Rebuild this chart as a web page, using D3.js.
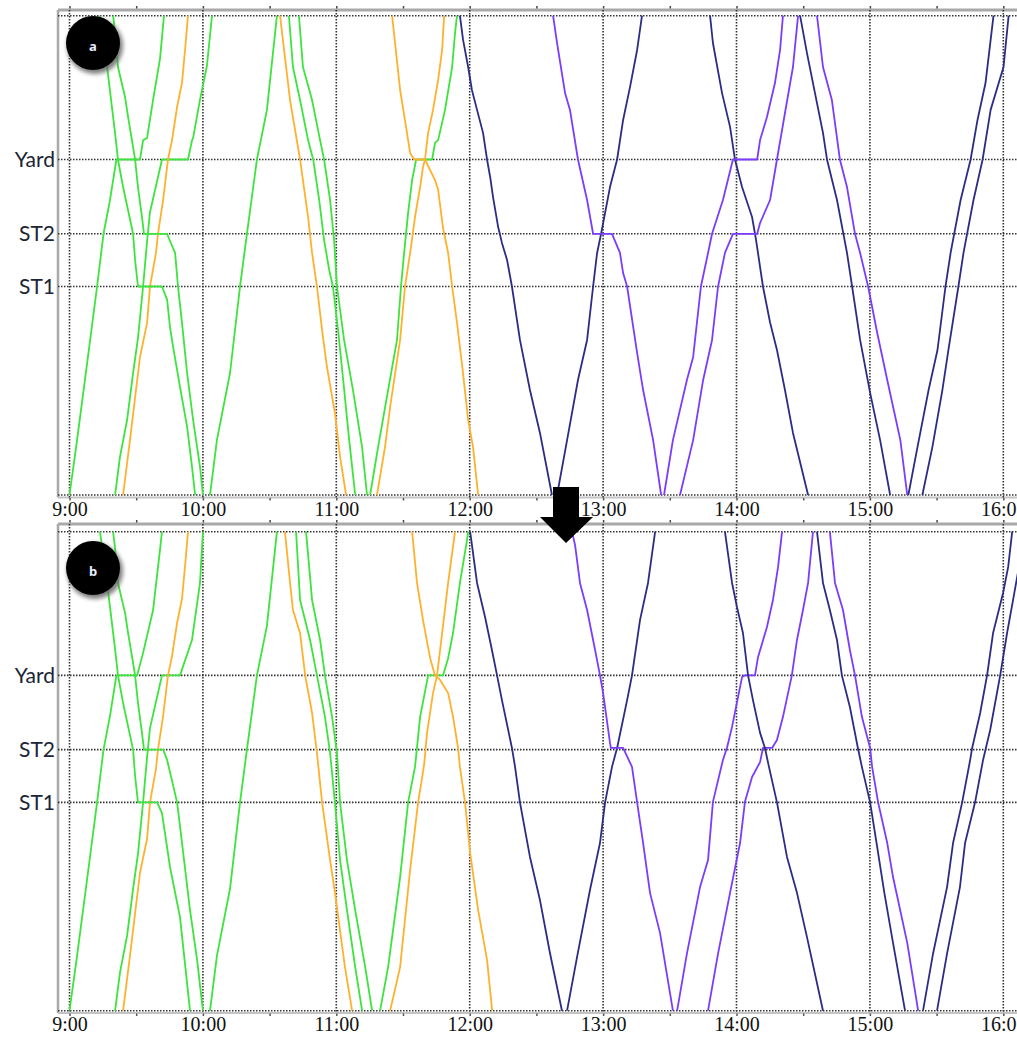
<!DOCTYPE html>
<html>
<head>
<meta charset="utf-8">
<script src="https://cdn.jsdelivr.net/npm/d3@7"></script>
<style>
  body { margin: 0; background: #fff; }
  svg { display: block; }
</style>
</head>
<body>
<svg id="chart" width="1017" height="1038"></svg>
<script>
// ---- Line geometry: stations by distance (km) from the lower terminal ----
const stations = [
  { name: "",     km: 0 },
  { name: "ST1",  km: 8.7 },
  { name: "ST2",  km: 10.9 },
  { name: "Yard", km: 14.0 },
  { name: "",     km: 20 }
];

// Hour grid (minutes after 9:00) and their labels
const hourMinutes = [0, 60, 120, 180, 240, 300, 360, 420];
const hourLabels = ["9:00", "10:00", "11:00", "12:00", "13:00", "14:00", "15:00", "16:00"];
const halfHourMinutes = d3.range(0, 451, 30);

// Service colours
const serviceColors = {
  green:  "#3ce43c",
  orange: "#ffb12e",
  navy:   "#2c2c84",
  purple: "#7b3cff"
};

// ---- Timetable (a): each path is [minutes after 9:00, km] ----
const planA = [
  { service: "green",  path: [[0,0],[3.4,2.29],[8.3,5.76],[12.4,8.7],[15.3,10.9],[18.2,12.3],[21.1,14.0],[31.7,14.0],[33.1,14.8],[34.9,14.9],[37.6,16.5],[40.7,18.2],[42.5,20]] },
  { service: "green",  path: [[20.5,0],[22.7,1.59],[25.9,3.13],[28.6,5.09],[30.8,6.55],[33.1,8.7],[34.9,10.6],[36.2,11.8],[39.4,13.1],[41.6,14.0],[53.3,14.0],[55.1,14.8],[55.6,14.9],[58.7,16.5],[61.8,17.9],[64.1,20]] },
  { service: "orange", path: [[24.1,0],[27.2,2.29],[31.7,5.76],[34.9,7.18],[36.2,8.7],[38.9,10.1],[39.8,10.9],[42.1,12.3],[44.3,14.0],[46.1,14.8],[48.4,16.2],[50.6,17.2],[52.0,18.6],[53.3,20]] },
  { service: "green",  path: [[13.7,20],[16.9,17.86],[20.5,15.1],[21.8,14.0],[24.1,12.85],[28.6,10.9],[29.5,9.8],[30.8,8.7],[41.6,8.7],[43.9,8.15],[45.2,7.0],[46.6,6.18],[49.7,4.51],[52.9,2.84],[55.1,1.17],[56.5,0]] },
  { service: "green",  path: [[19.6,20],[20.5,19.3],[21.8,17.86],[25.0,16.6],[26.3,15.8],[28.1,14.8],[29.5,14.0],[30.8,12.85],[32.6,11.6],[33.5,10.9],[43.9,10.9],[45.2,10.6],[47.5,10.1],[48.8,8.7],[50.6,7.18],[52.9,5.09],[55.6,3.13],[58.7,1.17],[60.0,0]] },
  { service: "green",  path: [[63.2,0],[66.3,2.29],[72.2,5.09],[76.7,8.7],[79.8,10.9],[84.3,14.0],[88.8,16.07],[93.3,20]] },
  { service: "orange", path: [[94.7,20],[96.5,18.57],[99.2,16.48],[103.7,14.0],[107.3,11.6],[109.1,10.1],[111.3,8.7],[113.6,6.88],[115.8,5.34],[119.4,3.42],[121.7,1.59],[124.4,0]] },
  { service: "green",  path: [[98.7,20],[100.5,17.86],[103.7,16.48],[107.3,14.81],[109.6,14.0],[112.3,12.31],[114.5,10.64],[116.8,9.39],[118.5,8.7],[120.8,6.88],[123.1,4.8],[125.8,2.29],[128.5,0]] },
  { service: "green",  path: [[103.2,20],[105.0,17.86],[109.1,16.48],[112.7,14.81],[114.5,14.0],[117.2,12.31],[119.0,10.64],[120.3,8.7],[123.5,6.47],[127.5,4.38],[131.6,2.0],[133.8,0]] },
  { service: "green",  path: [[135.2,0],[138.8,2.0],[143.3,4.38],[147.3,6.47],[149.1,8.7],[150.5,10.1],[152.3,11.77],[154.1,13.14],[155.9,14.0],[163.1,14.0],[164.4,14.69],[165.8,14.81],[168.9,16.07],[172.1,17.86],[173.4,19.28],[174.3,20]] },
  { service: "orange", path: [[138.3,0],[141.9,2.0],[144.2,3.67],[148.7,6.47],[150.9,8.7],[153.2,10.1],[155.4,11.6],[157.7,12.85],[159.0,13.69],[159.9,14.0],[161.3,15.11],[163.5,16.07],[165.8,17.32],[167.6,18.57],[168.5,20]] },
  { service: "orange", path: [[145.1,20],[148.7,16.9],[151.8,15.11],[153.2,14.27],[155.0,14.0],[159.9,14.0],[164.4,13.14],[165.8,12.73],[168.0,11.15],[170.3,10.1],[172.1,8.7],[174.3,7.18],[177.0,5.09],[179.3,3.13],[181.5,2.0],[183.8,0]] },
  { service: "navy",   path: [[175.6,20],[177.0,19.0],[179.3,17.86],[181.0,16.9],[183.3,16.07],[186.0,15.11],[187.8,14.0],[189.2,13.27],[190.5,12.43],[192.8,11.18],[194.5,10.52],[196.8,9.81],[199.0,8.7],[202.6,6.47],[207.1,4.38],[211.6,2.59],[217.0,0]] },
  { service: "navy",   path: [[219.3,0],[223.8,2.29],[228.7,4.8],[232.8,6.47],[235.5,8.7],[237.3,10.1],[239.1,10.9],[243.1,12.85],[246.3,14.0],[249.0,15.65],[252.1,17.02],[255.3,18.57],[257.5,20]] },
  { service: "purple", path: [[217.5,20],[219.3,18.86],[222.9,16.77],[225.1,16.07],[228.7,14.0],[232.8,12.31],[235.5,10.9],[244.0,10.9],[247.6,10.1],[249.0,9.26],[250.8,8.7],[255.3,5.93],[258.0,4.38],[262.5,2.29],[266.1,0]] },
  { service: "navy",   path: [[288.1,20],[289.4,18.86],[293.5,16.77],[297.1,15.36],[299.3,14.0],[302.5,12.85],[307.0,11.6],[308.8,10.64],[311.9,8.7],[315.1,7.2],[318.2,6.05],[321.8,4.38],[325.4,2.59],[332.2,0]] },
  { service: "purple", path: [[267.4,0],[271.4,2.29],[277.7,4.8],[280.5,5.76],[284.0,8.7],[287.2,10.1],[289.0,10.9],[293.9,12.31],[298.4,14.0],[309.3,14.0],[310.6,14.81],[313.7,15.77],[317.3,17.19],[319.6,18.57],[320.9,20]] },
  { service: "purple", path: [[274.6,0],[280.5,2.29],[285.0,4.8],[289.0,6.47],[291.7,8.7],[294.8,10.1],[298.4,10.9],[309.3,10.9],[310.6,11.35],[315.1,12.31],[318.2,14.0],[321.8,15.94],[325.4,17.86],[327.7,20]] },
  { service: "navy",   path: [[328.6,20],[331.7,18.44],[335.3,16.77],[338.9,15.11],[340.7,14.0],[345.2,12.31],[349.7,10.1],[352.0,8.7],[355.6,6.47],[360.1,4.26],[364.6,2.29],[369.1,0]] },
  { service: "purple", path: [[336.2,20],[338.9,17.86],[342.9,16.48],[346.5,14.0],[349.7,12.85],[353.3,10.9],[355.6,10.1],[359.2,8.7],[363.3,6.76],[367.8,4.8],[373.7,2.29],[376.8,0]] },
  { service: "navy",   path: [[377.3,0],[381.4,2.0],[386.4,4.38],[390.4,6.05],[394.0,8.7],[396.3,10.1],[400.8,12.31],[405.3,14.0],[408.4,15.65],[412.0,17.19],[415.6,20]] },
  { service: "navy",   path: [[383.6,0],[388.1,2.0],[392.6,4.38],[395.3,6.05],[399.8,8.7],[402.1,10.1],[406.6,12.31],[410.7,14.0],[414.3,16.07],[420.1,17.86],[422.4,20]] }
];

// ---- Timetable (b): revised plan ----
const planB = [
  { service: "green",  path: [[0,0],[3.4,2.29],[8.3,5.76],[12.4,8.7],[15.3,10.9],[18.2,12.3],[21.1,14.0],[30.4,14.0],[33.1,14.94],[37.6,16.73],[40.7,19.24],[41.6,20]] },
  { service: "green",  path: [[20.5,0],[22.7,1.59],[25.9,3.13],[28.6,5.09],[30.8,6.55],[33.1,8.7],[34.9,10.6],[36.2,11.8],[39.4,13.1],[41.6,14.0],[49.7,14.0],[55.1,15.48],[58.7,17.86],[60.0,20]] },
  { service: "orange", path: [[24.1,0],[27.2,2.29],[31.7,5.76],[34.9,7.18],[36.2,8.7],[38.9,10.1],[39.8,10.9],[42.1,12.3],[44.3,14.0],[46.1,14.8],[48.4,16.2],[50.6,17.2],[52.0,18.6],[53.3,20]] },
  { service: "green",  path: [[13.7,20],[16.9,17.86],[20.5,15.1],[21.8,14.0],[24.1,12.85],[28.6,10.9],[29.5,9.8],[30.8,8.7],[39.4,8.7],[41.6,8.25],[45.2,6.0],[49.7,3.91],[54.2,0]] },
  { service: "green",  path: [[19.6,20],[20.5,19.3],[21.8,17.86],[25.0,16.6],[26.3,15.8],[28.1,14.8],[29.5,14.0],[30.8,12.85],[32.6,11.6],[33.5,10.9],[42.1,10.9],[43.9,10.47],[48.4,8.7],[50.6,7.01],[54.2,4.2],[57.4,2.12],[60.0,0]] },
  { service: "green",  path: [[63.2,0],[66.3,2.29],[72.2,5.09],[76.7,8.7],[79.8,10.9],[84.3,14.0],[88.8,16.07],[93.3,20]] },
  { service: "orange", path: [[96.9,20],[99.2,17.86],[100.5,16.73],[103.7,15.77],[106.0,14.0],[109.1,12.43],[111.3,10.76],[113.6,8.7],[117.2,6.29],[119.4,4.92],[123.9,1.82],[127.1,0]] },
  { service: "green",  path: [[101.9,20],[103.7,17.15],[108.2,15.48],[111.3,14.0],[114.9,12.27],[117.2,10.76],[119.4,8.68],[121.7,6.29],[124.8,4.2],[128.5,1.82],[131.6,0]] },
  { service: "green",  path: [[106.4,20],[109.1,17.15],[112.7,15.48],[114.9,14.0],[118.1,12.27],[120.3,10.76],[121.7,8.68],[124.8,6.29],[128.5,4.2],[133.0,1.82],[136.1,0]] },
  { service: "green",  path: [[139.7,0],[143.3,1.82],[148.7,5.58],[152.3,8.7],[155.4,10.18],[157.7,12.27],[161.3,14.0],[168.0,14.0],[170.3,14.72],[172.5,15.77],[175.6,17.86],[178.8,19.65],[179.3,20]] },
  { service: "orange", path: [[144.2,0],[148.7,1.82],[153.2,5.88],[156.8,8.7],[159.5,10.26],[160.8,11.59],[163.5,13.26],[165.3,14.0],[167.6,15.77],[170.3,17.86],[173.4,20]] },
  { service: "orange", path: [[154.1,20],[156.3,17.86],[159.0,16.31],[162.2,14.72],[164.4,14.0],[166.7,13.81],[170.3,13.26],[172.5,12.27],[174.7,11.01],[175.6,10.18],[177.9,8.7],[180.2,6.59],[183.8,4.2],[187.8,2.12],[190.1,0]] },
  { service: "navy",   path: [[180.2,20],[183.3,17.86],[186.9,16.44],[190.0,15.06],[192.3,14.0],[194.5,12.97],[199.0,10.97],[200.4,10.18],[202.6,8.7],[207.1,6.42],[211.6,4.62],[216.1,2.41],[221.5,0]] },
  { service: "navy",   path: [[223.8,0],[228.3,2.25],[234.1,5.04],[238.6,7.0],[240.9,8.7],[244.0,10.18],[246.3,10.97],[250.8,12.97],[253.0,14.0],[256.6,16.31],[260.2,17.86],[263.4,20]] },
  { service: "purple", path: [[226.0,20],[227.4,19.44],[229.6,17.86],[232.8,16.73],[236.4,15.06],[238.6,14.0],[240.0,13.26],[243.1,11.18],[243.5,10.97],[249.0,10.97],[253.0,10.18],[255.3,8.7],[258.0,7.0],[261.1,4.92],[265.6,3.25],[271.4,0]] },
  { service: "purple", path: [[273.3,0],[277.7,2.38],[283.6,5.16],[287.2,6.29],[289.4,8.72],[293.9,10.47],[295.7,10.97],[298.0,11.85],[302.5,13.93],[303.8,14.0],[308.3,14.0],[309.7,14.77],[313.7,16.02],[316.4,17.15],[318.7,18.53],[320.5,20]] },
  { service: "purple", path: [[287.2,0],[291.7,2.38],[297.1,4.92],[301.6,7.0],[303.8,8.72],[307.0,9.76],[310.6,10.38],[311.9,10.97],[316.0,10.97],[318.2,11.3],[320.9,12.27],[324.9,14.0],[327.2,15.48],[329.9,16.73],[332.2,17.86],[334.4,20]] },
  { service: "navy",   path: [[294.8,20],[298.0,17.86],[300.2,16.86],[302.9,15.77],[305.2,14.0],[307.4,12.97],[310.6,11.6],[312.8,10.97],[314.6,10.18],[318.2,8.7],[322.7,6.42],[327.2,4.92],[331.7,3.07],[338.9,0]] },
  { service: "navy",   path: [[336.2,20],[338.9,17.86],[342.0,16.73],[345.2,15.48],[347.4,14.0],[351.0,12.68],[354.6,10.97],[356.4,10.18],[360.1,8.7],[363.0,7.0],[366.5,4.92],[370.4,2.83],[375.8,0]] },
  { service: "purple", path: [[342.0,20],[344.3,17.86],[347.9,16.73],[351.0,15.06],[353.3,14.0],[356.4,12.27],[360.1,10.97],[361.0,10.18],[363.7,8.7],[367.8,7.0],[370.4,5.58],[376.8,2.83],[381.7,0]] },
  { service: "navy",   path: [[383.9,0],[388.4,2.38],[394.7,5.16],[397.4,7.0],[401.5,8.7],[405.1,10.47],[406.0,10.97],[409.6,12.43],[412.7,14.0],[415.4,15.77],[419.9,17.44],[422.2,18.53],[424.0,20]] },
  { service: "navy",   path: [[390.2,0],[394.7,2.38],[400.5,5.16],[402.8,7.0],[407.3,8.7],[410.9,10.47],[414.1,11.72],[418.6,14.0],[421.7,15.77],[424.4,17.15],[427.6,18.82],[430.3,20]] }
];

// ---- Layout ----
const svg = d3.select("#chart");
const frameLeft = 58;
const frameRight = 1030;
const x = d3.scaleLinear().domain([0, 420]).range([69.5, 1003.3]);

const panels = [
  { tag: "a", plan: planA, top: 15.7, bottom: 495, frameTop: 10, frameBottom: 497.5, badgeY: 43 },
  { tag: "b", plan: planB, top: 531.7, bottom: 1010.7, frameTop: 524, frameBottom: 1013, badgeY: 568 }
];

const defs = svg.append("defs");
defs.append("filter").attr("id", "badgeShadow")
  .attr("x", "-50%").attr("y", "-50%").attr("width", "200%").attr("height", "200%")
  .append("feGaussianBlur").attr("stdDeviation", 2.2);

const dotted = g => g.attr("stroke", "#333").attr("stroke-width", 1.6)
  .attr("stroke-dasharray", "1.5 1.5").attr("fill", "none");

panels.forEach(p => {
  const y = d3.scaleLinear().domain([0, 20]).range([p.bottom, p.top]);
  const g = svg.append("g").attr("class", "panel-" + p.tag);

  // frame (light grey)
  g.append("line").attr("x1", frameLeft).attr("x2", frameRight)
    .attr("y1", p.frameTop).attr("y2", p.frameTop)
    .attr("stroke", "#a9a9a9").attr("stroke-width", 3);
  g.append("line").attr("x1", frameLeft).attr("x2", frameLeft)
    .attr("y1", p.frameTop).attr("y2", p.frameBottom)
    .attr("stroke", "#a9a9a9").attr("stroke-width", 2.5);
  g.append("line").attr("x1", frameLeft).attr("x2", frameRight)
    .attr("y1", p.frameBottom).attr("y2", p.frameBottom)
    .attr("stroke", "#c4c4c4").attr("stroke-width", 2);

  // half-hour ticks on the frame
  const topTicks = g.append("g").attr("transform", `translate(0,${p.frameTop - 1.5})`)
    .call(d3.axisTop(x).tickValues(halfHourMinutes).tickSize(2.5).tickFormat(""));
  topTicks.select(".domain").remove();
  topTicks.selectAll("line").attr("stroke", "#444").attr("stroke-width", 1.5);

  const botTicks = g.append("g").attr("transform", `translate(0,${p.frameBottom + 0.5})`)
    .call(d3.axisBottom(x).tickValues(halfHourMinutes).tickSize(2.5).tickFormat(""));
  botTicks.select(".domain").remove();
  botTicks.selectAll("line").attr("stroke", "#555").attr("stroke-width", 1.5);

  // dotted grid: hours and stations
  g.append("g").selectAll("line").data(hourMinutes).join("line")
    .attr("x1", d => x(d)).attr("x2", d => x(d))
    .attr("y1", p.frameTop).attr("y2", p.frameBottom)
    .call(dotted);
  g.append("g").selectAll("line").data(stations).join("line")
    .attr("x1", frameLeft).attr("x2", frameRight)
    .attr("y1", d => y(d.km)).attr("y2", d => y(d.km))
    .call(dotted);

  // hour labels under the panel
  const hourAxis = g.append("g").attr("transform", `translate(0,${p.frameBottom})`)
    .call(d3.axisBottom(x).tickValues(hourMinutes).tickSize(0).tickPadding(4)
      .tickFormat((d, i) => hourLabels[i]));
  hourAxis.select(".domain").remove();
  hourAxis.selectAll("text")
    .attr("font-family", "'Liberation Serif', 'DejaVu Serif', serif")
    .attr("font-size", 20).attr("fill", "#111");

  // station names
  g.append("g").selectAll("text").data(stations.filter(s => s.name)).join("text")
    .attr("x", 55).attr("y", d => y(d.km)).attr("dy", "0.35em")
    .attr("text-anchor", "end")
    .attr("font-family", "Lato, 'Open Sans', sans-serif")
    .attr("font-size", 21).attr("fill", "#1c2535")
    .text(d => d.name);

  // train paths
  const line = d3.line().x(d => x(d[0])).y(d => y(d[1]));
  g.append("g").selectAll("path").data(p.plan).join("path")
    .attr("d", d => line(d.path))
    .attr("fill", "none")
    .attr("stroke", d => serviceColors[d.service])
    .attr("stroke-width", 1.8)
    .attr("stroke-linejoin", "round");

  // panel badge
  const bx = 93;
  g.append("circle").attr("cx", bx + 2).attr("cy", p.badgeY + 3).attr("r", 28)
    .attr("fill", "#666").attr("opacity", 0.85).attr("filter", "url(#badgeShadow)");
  g.append("circle").attr("cx", bx).attr("cy", p.badgeY).attr("r", 27).attr("fill", "#000");
  g.append("text").attr("x", bx).attr("y", p.badgeY + 4).attr("dy", "0.3em")
    .attr("text-anchor", "middle")
    .attr("font-family", "'Noto Sans', sans-serif").attr("font-size", 13)
    .attr("font-weight", "bold").attr("fill", "#e6eeff")
    .text(p.tag);
});

// arrow from plan (a) to plan (b)
const arrow = d3.path();
arrow.moveTo(553, 487); arrow.lineTo(579, 487); arrow.lineTo(579, 517);
arrow.lineTo(593, 517); arrow.lineTo(566, 543); arrow.lineTo(540, 517);
arrow.lineTo(553, 517); arrow.closePath();
svg.append("path").attr("d", arrow.toString()).attr("fill", "#000");
</script>
</body>
</html>
